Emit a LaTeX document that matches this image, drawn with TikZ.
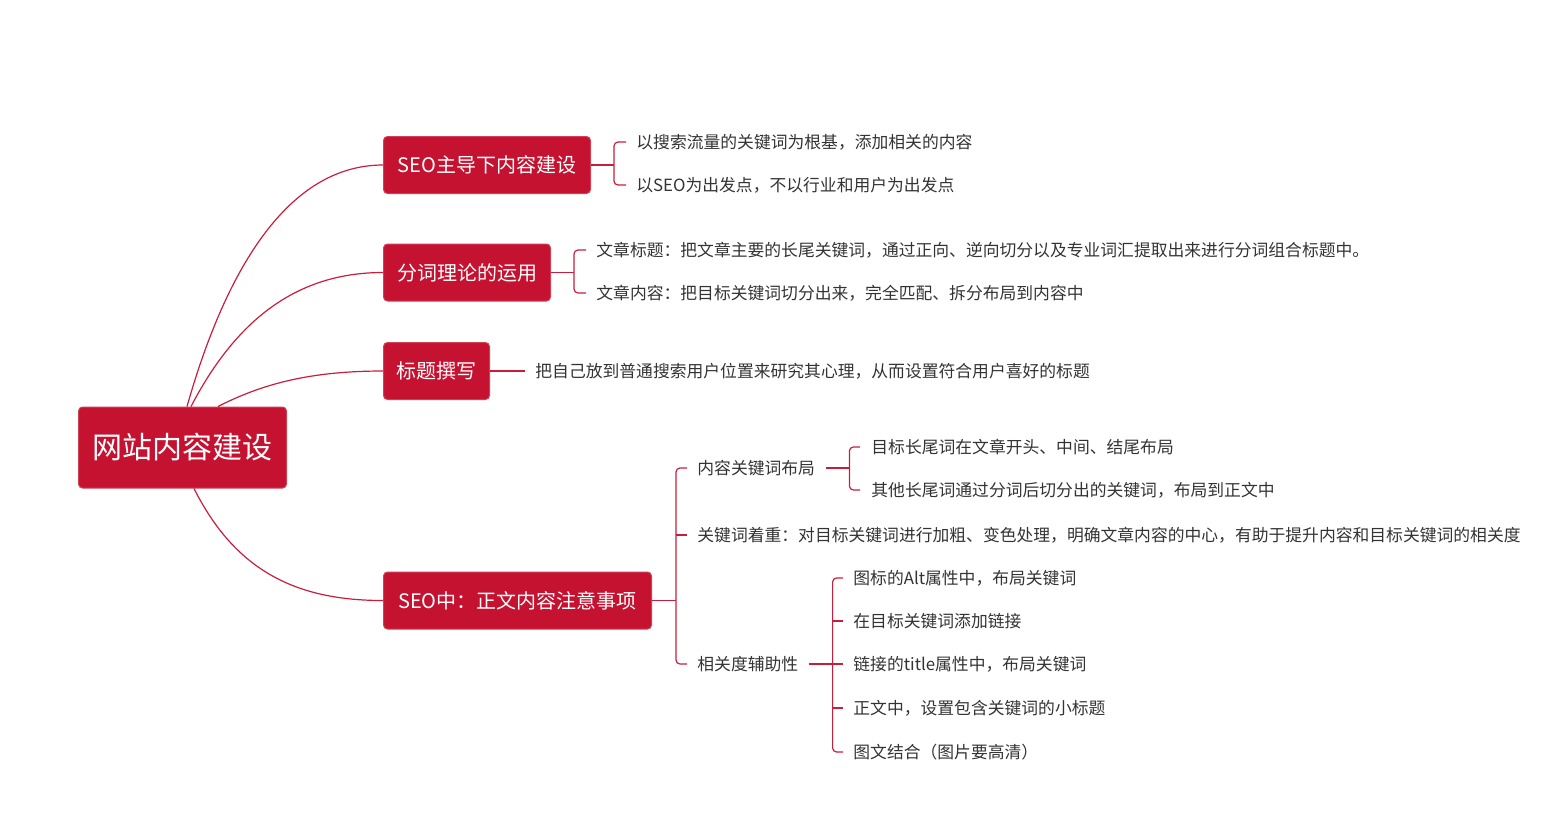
\documentclass[tikz,border=0pt]{standalone}
\usepackage{fontspec}
\setmainfont{Noto Sans CJK SC}
\usetikzlibrary{calc}
\definecolor{mmred}{RGB}{196,18,48}
\definecolor{mmline}{RGB}{200,30,60}
\definecolor{mmtext}{RGB}{51,51,51}
\tikzset{
  rootbox/.style={fill=mmred, draw=mmred!80!white, line width=0.5pt, rounded corners=2pt, text=white,
    font=\fontsize{15}{18}\selectfont, minimum height=40.5pt, inner xsep=2pt, inner ysep=0pt, anchor=west},
  branchbox/.style={fill=mmred, draw=mmred!80!white, line width=0.5pt, rounded corners=2pt, text=white,
    font=\fontsize{10}{12}\selectfont, minimum height=28.5pt, inner xsep=2pt, inner ysep=0pt, anchor=west},
  leaf/.style={text=mmtext, font=\fontsize{8.4}{10}\selectfont, inner sep=0pt, anchor=west},
  link/.style={draw=mmline, line width=0.6pt},
  brace/.style={draw=mmline, line width=0.6pt, rounded corners=2pt},
}
\begin{document}
\begin{tikzpicture}[x=0.5pt, y=-0.5pt]
\useasboundingbox (0,0) rectangle (1561,836);

% root and branches
\node[rootbox, minimum width=104pt] (root) at (78,447.5) {网站内容建设};
\node[branchbox, minimum width=103.5pt] (b1) at (383,165) {SEO主导下内容建设};
\node[branchbox, minimum width=83.5pt] (b2) at (383,272.5) {分词理论的运用};
\node[branchbox, minimum width=53pt] (b3) at (383,371) {标题撰写};
\node[branchbox, minimum width=134pt] (b4) at (383,600.5) {SEO中：正文内容注意事项};

% curves from root
\draw[link] ($(root.north west)+(109,0)$) .. controls (230,255) and (295,165) .. (b1.west);
\draw[link] ($(root.north west)+(113,0)$) .. controls (235,322) and (295,272.5) .. (b2.west);
\draw[link] ($(root.north west)+(140,0)$) .. controls (262,384) and (310,371) .. (b3.west);
\draw[link] ($(root.south west)+(116,0)$) .. controls (235,570) and (295,600.5) .. (b4.west);

% branch 1 children
\node[leaf] (c11) at (636,142) {以搜索流量的关键词为根基，添加相关的内容};
\node[leaf] (c12) at (636,185) {以SEO为出发点，不以行业和用户为出发点};
\coordinate (k1) at ($(b1.east)+(23,0)$);
\draw[link] (b1.east) -- (k1);
\draw[brace] ($(c11.west)+(-10,0)$) -| (k1) |- ($(c12.west)+(-10,0)$);

% branch 2 children
\node[leaf] (c21) at (596,250) {文章标题：把文章主要的长尾关键词，通过正向、逆向切分以及专业词汇提取出来进行分词组合标题中。};
\node[leaf] (c22) at (596,293) {文章内容：把目标关键词切分出来，完全匹配、拆分布局到内容中};
\coordinate (k2) at ($(b2.east)+(23,0)$);
\draw[link] (b2.east) -- (k2);
\draw[brace] ($(c21.west)+(-10,0)$) -| (k2) |- ($(c22.west)+(-10,0)$);

% branch 3 child
\node[leaf] (c31) at (535,371) {把自己放到普通搜索用户位置来研究其心理，从而设置符合用户喜好的标题};
\draw[link] (b3.east) -- ($(c31.west)+(-10,0)$);

% branch 4 children
\node[leaf] (c41) at (697,468) {内容关键词布局};
\node[leaf] (c42) at (697,535) {关键词着重：对目标关键词进行加粗、变色处理，明确文章内容的中心，有助于提升内容和目标关键词的相关度};
\node[leaf] (c43) at (697,664) {相关度辅助性};
\coordinate (k4) at ($(b4.east)+(24,0)$);
\draw[link] (b4.east) -- (k4);
\draw[brace] ($(c41.west)+(-10,0)$) -| (k4) |- ($(c43.west)+(-10,0)$);
\draw[link] (k4 |- c42.west) -- ($(c42.west)+(-10,0)$);

% 内容关键词布局 children
\node[leaf] (d11) at (871,447) {目标长尾词在文章开头、中间、结尾布局};
\node[leaf] (d12) at (871,490) {其他长尾词通过分词后切分出的关键词，布局到正文中};
\coordinate (k5) at ($(c41.east)+(34,0)$);
\draw[link] ($(c41.east)+(11,0)$) -- (k5);
\draw[brace] ($(d11.west)+(-11,0)$) -| (k5) |- ($(d12.west)+(-11,0)$);

% 相关度辅助性 children
\node[leaf] (d21) at (853,578) {图标的Alt属性中，布局关键词};
\node[leaf] (d22) at (853,621) {在目标关键词添加链接};
\node[leaf] (d23) at (853,664) {链接的title属性中，布局关键词};
\node[leaf] (d24) at (853,708) {正文中，设置包含关键词的小标题};
\node[leaf] (d25) at (853,752) {图文结合（图片要高清）};
\coordinate (k6) at ($(c43.east)+(34,0)$);
\draw[link] ($(c43.east)+(10,0)$) -- ($(d23.west)+(-10,0)$);
\draw[brace] ($(d21.west)+(-10,0)$) -| (k6) |- ($(d25.west)+(-10,0)$);
\draw[link] (k6 |- d22.west) -- ($(d22.west)+(-10,0)$);
\draw[link] (k6 |- d24.west) -- ($(d24.west)+(-10,0)$);
\end{tikzpicture}
\end{document}
